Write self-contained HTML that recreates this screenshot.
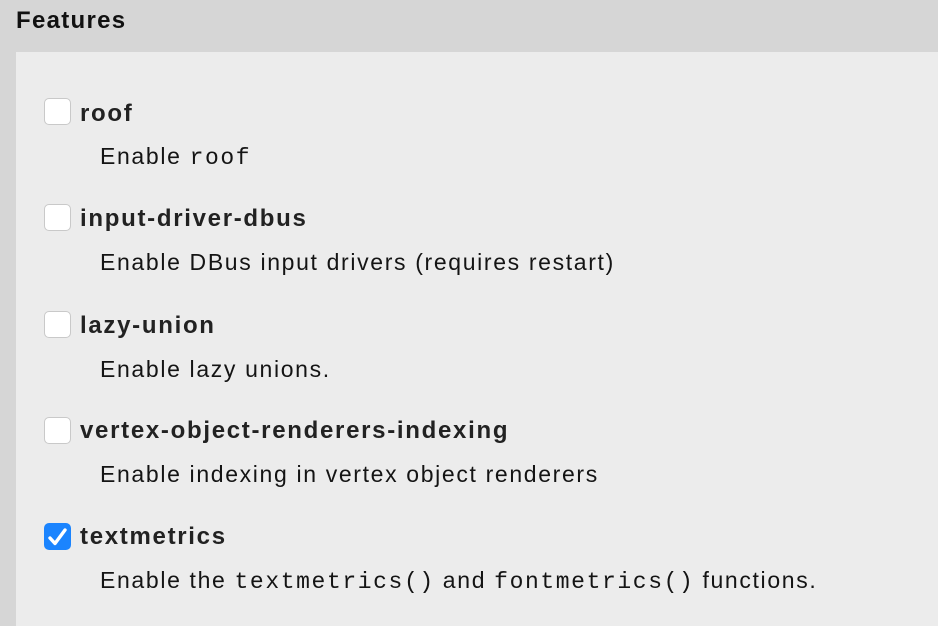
<!DOCTYPE html>
<html><head><meta charset="utf-8">
<style>
html,body{margin:0;padding:0;}
body{width:938px;height:626px;background:#d6d6d6;position:relative;overflow:hidden;font-family:"Liberation Sans",sans-serif;color:#222;}
.title{position:absolute;left:16px;top:9px;font-size:24px;line-height:24px;font-weight:bold;letter-spacing:1.3px;color:#111;}
.panel{position:absolute;left:16px;top:52px;right:0;bottom:0;background:#ececec;}
.cb{position:absolute;left:44px;width:25px;height:25px;border:1px solid #c9c9c9;border-radius:5px;background:#fff;}
.cb.on{background:#1b84fe;border-color:#1b84fe;}
.lbl{position:absolute;left:80px;font-size:24px;line-height:24px;font-weight:bold;letter-spacing:1.7px;color:#222;white-space:nowrap;}
.desc{position:absolute;left:100px;font-size:23px;line-height:23px;letter-spacing:1.65px;color:#141414;white-space:nowrap;}
.mono{font-family:"Liberation Mono",monospace;font-size:23px;letter-spacing:1.6px;}
</style></head><body>
<div class="title">Features</div>
<div class="panel"></div>

<div class="cb" style="top:98px"></div>
<div class="lbl" style="top:102px">roof</div>
<div class="desc" style="top:145px">Enable <span class="mono">roof</span></div>

<div class="cb" style="top:204px"></div>
<div class="lbl" style="top:207px">input-driver-dbus</div>
<div class="desc" style="top:251px">Enable DBus input drivers (requires restart)</div>

<div class="cb" style="top:311px"></div>
<div class="lbl" style="top:314px">lazy-union</div>
<div class="desc" style="top:358px">Enable lazy unions.</div>

<div class="cb" style="top:417px"></div>
<div class="lbl" style="top:419px">vertex-object-renderers-indexing</div>
<div class="desc" style="top:463px">Enable indexing in vertex object renderers</div>

<div class="cb on" style="top:523px">
<svg width="25" height="25" viewBox="0 0 25 25" style="position:absolute;left:0;top:0"><path d="M5 14 L10 19.5 L20 6" fill="none" stroke="#fff" stroke-width="3.4" stroke-linecap="round" stroke-linejoin="round"/></svg>
</div>
<div class="lbl" style="top:525px">textmetrics</div>
<div class="desc" style="top:569px">Enable the <span class="mono">textmetrics()</span> and <span class="mono">fontmetrics()</span> functions.</div>
</body></html>
